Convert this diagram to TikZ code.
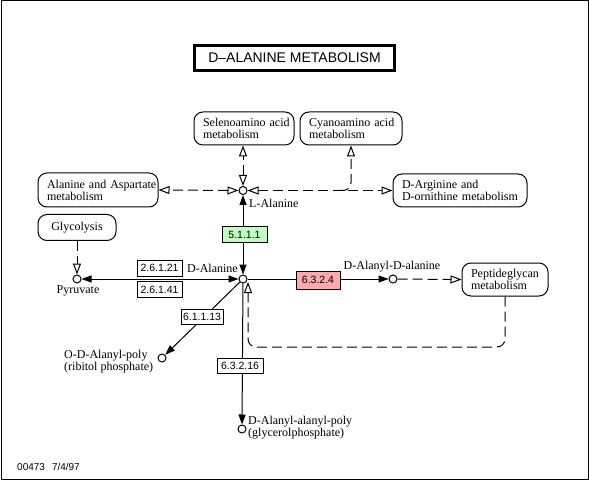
\documentclass[tikz,border=0pt]{standalone}
\usepackage{fontspec}
\setmainfont{Liberation Serif}
\newfontfamily\ecfont{Liberation Sans}
\usetikzlibrary{arrows.meta,backgrounds,calc}
\definecolor{ecgreen}{RGB}{191,255,191}
\definecolor{ecpink}{RGB}{255,168,176}
\begin{document}
\begin{tikzpicture}[x=1pt,y=-1pt,
  mapbox/.style={draw,rounded corners=9pt,line width=1pt,align=left,inner xsep=9pt,inner ysep=0pt,font=\fontsize{12}{12}\selectfont},
  ecbox/.style={draw,line width=1pt,inner sep=0pt,font=\ecfont\fontsize{10.5}{12}\selectfont},
  cpd/.style={circle,draw,line width=1pt,fill=white,minimum size=8pt,inner sep=0pt},
  lbl/.style={inner sep=0pt,font=\fontsize{12}{12}\selectfont,align=left},
  rel/.style={line width=1pt},
  dsh/.style={line width=1pt,dash pattern=on 10pt off 5pt},
  fa/.style={-{Triangle[length=10pt,width=7pt]}},
  fab/.style={{Triangle[length=10pt,width=7pt]}-{Triangle[length=10pt,width=7pt]}},
  oa/.style={-{Triangle[open,length=11pt,width=8pt]}},
  oab/.style={{Triangle[open,length=11pt,width=8pt]}-{Triangle[open,length=11pt,width=8pt]}}]
\useasboundingbox (0,0) rectangle (589,481);
\draw[line width=1pt] (1,1) rectangle (588,479);

% title
\node[draw,line width=3pt,minimum width=200pt,minimum height=25pt,inner sep=0pt,font=\ecfont\fontsize{14}{16}\selectfont] (title) at (294.5,58) {D–ALANINE METABOLISM};

% pathway map boxes
\node[mapbox,text width=82pt,minimum height=33pt] (seleno) at (244,128.5) {\mbox{Selenoamino acid}\\metabolism};
\node[mapbox,text width=84pt,minimum height=33pt] (cyano) at (351,128.5) {\mbox{Cyanoamino acid}\\metabolism};
\node[mapbox,text width=102pt,minimum height=34pt] (alaasp) at (98,190) {\mbox{Alanine and Aspartate}\\metabolism};
\node[mapbox,text width=116pt,minimum height=33pt] (darg) at (460,190.5) {\mbox{D-Arginine and}\\\mbox{D-ornithine metabolism}};
\node[mapbox,align=center,minimum width=78pt,minimum height=26pt,inner xsep=0pt] (glyc) at (77,227.5) {Glycolysis};
\node[mapbox,text width=68pt,minimum height=33pt] (pep) at (505,279.5) {\mbox{Peptideglycan}\\metabolism};

% compounds
\node[cpd] (lala) at (243,190.5) {};
\node[cpd] (dala) at (243,279) {};
\node[cpd] (pyr) at (77,279) {};
\node[cpd] (dda) at (393,279) {};
\node[cpd] (oda) at (162,358) {};
\node[cpd] (daap) at (242,429) {};

\node[lbl,anchor=west] (lalaL) at (249,203) {L-Alanine};
\node[lbl,anchor=east] (dalaL) at (238,268) {D-Alanine};
\node[lbl] (pyrL) at (78,291) {Pyruvate};
\node[lbl] (ddaL) at (392,267) {D-Alanyl-D-alanine};
\node[lbl,anchor=west] (odaL) at (64,362) {O-D-Alanyl-poly\\(ribitol phosphate)};
\node[lbl,anchor=west] (daapL) at (248,428) {D-Alanyl-alanyl-poly\\(glycerolphosphate)};

% enzymes
\node[ecbox,fill=ecgreen,minimum width=45pt,minimum height=16pt] (e5111) at (244.5,235) {5.1.1.1};
\node[ecbox,fill=white,minimum width=45pt,minimum height=16pt] (e26121) at (159.5,268) {2.6.1.21};
\node[ecbox,fill=white,minimum width=45pt,minimum height=16pt] (e26141) at (159.5,289.5) {2.6.1.41};
\node[ecbox,fill=ecpink,minimum width=44pt,minimum height=18pt] (e6324) at (318,280) {6.3.2.4};
\node[ecbox,fill=white,minimum width=42pt,minimum height=15pt] (e61113) at (202,316.5) {6.1.1.13};
\node[ecbox,fill=white,minimum width=46pt,minimum height=15pt] (e63216) at (240,365.5) {6.3.2.16};

\coordinate (cyj) at (cyano.south |- lala);
\coordinate (cys) at ($(cyj)+(-12,0)$);
\coordinate (ret) at (248,347);
\coordinate (dain) at (248,282);

\node[anchor=west,inner sep=0pt,font=\ecfont\fontsize{10}{12}\selectfont] (foot) at (17,467) {00473\hspace{7pt}7/4/97};

\begin{pgfonlayer}{background}
\draw[rel,fab] (lala) -- (dala);
\draw[dsh,oab] (lala) -- (lala |- seleno.south);
\draw[dsh,oab] (lala) -- (alaasp.east);
\draw[dsh,oab] (lala) -- (darg.west);
\draw[dsh,oa,rounded corners=8pt] (cys) -- (cyj) -- (cyano.south);
\draw[dsh,oa] (glyc.south) -- (pyr);
\draw[rel,fab] (dala) -- (pyr);
\draw[rel,fa] (dala) -- (dda);
\draw[dsh,oa] (dda) -- (pep.west);
\draw[dsh,oa,rounded corners=8pt] (pep.south) -- (pep.south |- ret) -- (ret) -- (dain);
\draw[rel,fa] (dala) -- (oda);
\draw[rel,fa] (dala) -- (daap);
\end{pgfonlayer}
\end{tikzpicture}
\end{document}
